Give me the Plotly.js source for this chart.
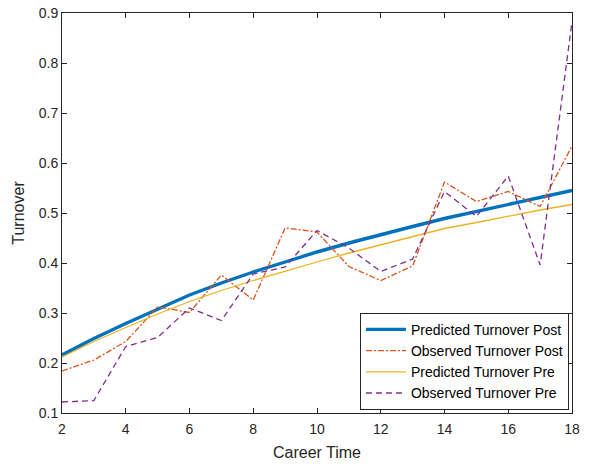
<!DOCTYPE html>
<html>
<head>
<meta charset="utf-8">
<script src="https://cdn.plot.ly/plotly-3.0.1.min.js"></script>
<style>html,body{margin:0;padding:0;background:#fff;}#chart{width:589px;height:466px;}</style>
</head>
<body>
<div id="chart"></div>
<script>
const careerTime = [2,3,4,5,6,7,8,9,10,11,12,13,14,15,16,17,18];
const predictedPost = [0.216,0.249,0.279,0.308,0.336,0.360,0.382,0.402,0.422,0.440,0.457,0.473,0.489,0.503,0.518,0.532,0.545];
const observedPost = [0.184,0.206,0.243,0.312,0.301,0.376,0.326,0.470,0.462,0.393,0.365,0.394,0.562,0.523,0.543,0.513,0.634];
const predictedPre = [0.212,0.243,0.271,0.298,0.323,0.345,0.365,0.384,0.402,0.420,0.436,0.453,0.469,0.481,0.494,0.506,0.517];
const observedPre = [0.122,0.125,0.233,0.251,0.310,0.285,0.378,0.392,0.465,0.430,0.383,0.408,0.543,0.493,0.574,0.396,0.883];
const seriesNames = ['Predicted Turnover Post','Observed Turnover Post','Predicted Turnover Pre','Observed Turnover Pre'];
const xTicks = [2,4,6,8,10,12,14,16,18];
const yTicks = [0.1,0.2,0.3,0.4,0.5,0.6,0.7,0.8,0.9];

const traces = [
  {x: careerTime, y: predictedPost, name: seriesNames[0], mode: 'lines', line: {color: '#0072BD', width: 3.4}},
  {x: careerTime, y: observedPost, name: seriesNames[1], mode: 'lines', line: {color: '#D95319', width: 1.3, dash: '6px,2px,2px,2px'}},
  {x: careerTime, y: predictedPre, name: seriesNames[2], mode: 'lines', line: {color: '#EDB120', width: 1.3}},
  {x: careerTime, y: observedPre, name: seriesNames[3], mode: 'lines', line: {color: '#7E2F8E', width: 1.3, dash: '6px,4px'}}
];

const FONT = 'Liberation Sans, Arial, sans-serif';
const axisCommon = {
  showgrid: false, zeroline: false, showline: true, mirror: 'ticks',
  linecolor: '#262626', linewidth: 1, ticks: 'inside', ticklen: 5, tickwidth: 1, tickcolor: '#262626',
  tickfont: {family: FONT, size: 14, color: '#262626'}
};

const layout = {
  width: 589, height: 466,
  margin: {l: 62, r: 17, t: 13, b: 53},
  paper_bgcolor: '#fff', plot_bgcolor: '#fff',
  showlegend: true,
  legend: {
    x: 0.994, xanchor: 'right', y: 0.008, yanchor: 'bottom',
    bgcolor: '#fff', bordercolor: '#262626', borderwidth: 1,
    font: {family: FONT, size: 14, color: '#000'},
    tracegroupgap: 0, itemwidth: 40
  },
  xaxis: Object.assign({}, axisCommon, {
    range: [2, 18], tickvals: xTicks, ticktext: xTicks.map(String), ticklabelstandoff: 3,
    title: {text: 'Career Time', font: {family: FONT, size: 16, color: '#262626'}, standoff: 11}
  }),
  yaxis: Object.assign({}, axisCommon, {
    range: [0.1, 0.9], tickvals: yTicks, ticktext: yTicks.map(v => v.toFixed(1)),
    title: {text: 'Turnover', font: {family: FONT, size: 16, color: '#262626'}, standoff: 10}
  })
};

Plotly.newPlot('chart', traces, layout, {displayModeBar: false, staticPlot: true});
</script>
</body>
</html>
